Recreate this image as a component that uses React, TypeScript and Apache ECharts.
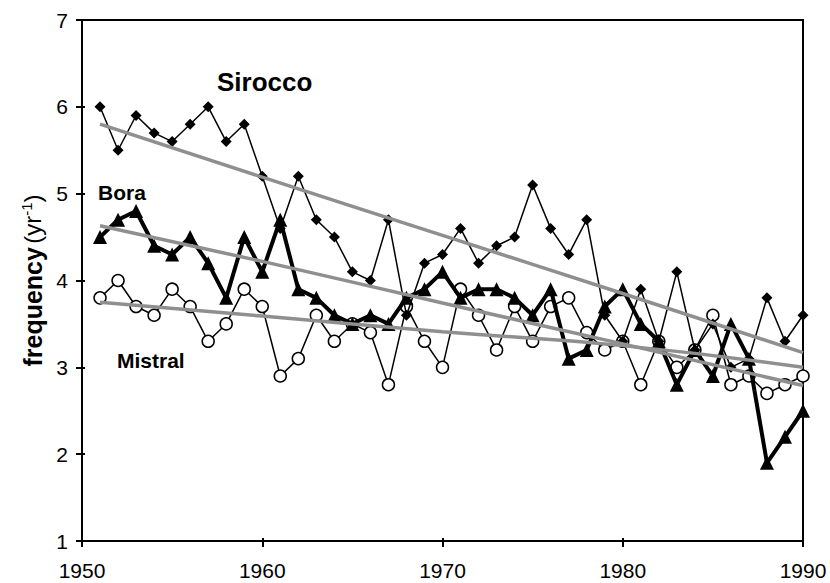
import React, { useEffect, useRef } from "react";
import * as echarts from "echarts";

const years = [
  1951, 1952, 1953, 1954, 1955, 1956, 1957, 1958, 1959, 1960,
  1961, 1962, 1963, 1964, 1965, 1966, 1967, 1968, 1969, 1970,
  1971, 1972, 1973, 1974, 1975, 1976, 1977, 1978, 1979, 1980,
  1981, 1982, 1983, 1984, 1985, 1986, 1987, 1988, 1989, 1990,
];

const sirocco = [
  6.0, 5.5, 5.9, 5.7, 5.6, 5.8, 6.0, 5.6, 5.8, 5.2,
  4.6, 5.2, 4.7, 4.5, 4.1, 4.0, 4.7, 3.6, 4.2, 4.3,
  4.6, 4.2, 4.4, 4.5, 5.1, 4.6, 4.3, 4.7, 3.6, 3.3,
  3.9, 3.3, 4.1, 3.2, 3.5, 3.0, 3.1, 3.8, 3.3, 3.6,
];

const bora = [
  4.5, 4.7, 4.8, 4.4, 4.3, 4.5, 4.2, 3.8, 4.5, 4.1,
  4.7, 3.9, 3.8, 3.6, 3.5, 3.6, 3.5, 3.8, 3.9, 4.1,
  3.8, 3.9, 3.9, 3.8, 3.6, 3.9, 3.1, 3.2, 3.7, 3.9,
  3.5, 3.3, 2.8, 3.2, 2.9, 3.5, 3.1, 1.9, 2.2, 2.5,
];

const mistral = [
  3.8, 4.0, 3.7, 3.6, 3.9, 3.7, 3.3, 3.5, 3.9, 3.7,
  2.9, 3.1, 3.6, 3.3, 3.5, 3.4, 2.8, 3.7, 3.3, 3.0,
  3.9, 3.6, 3.2, 3.7, 3.3, 3.7, 3.8, 3.4, 3.2, 3.3,
  2.8, 3.3, 3.0, 3.2, 3.6, 2.8, 2.9, 2.7, 2.8, 2.9,
];

// Trend lines
const trendYears = [1951, 1960, 1970, 1980, 1990];
const siroccoTrend = [5.8, 5.19, 4.52, 3.85, 3.17];
const boraTrend = [4.63, 4.22, 3.74, 3.27, 2.79];
const mistralTrend = [3.75, 3.59, 3.41, 3.25, 3.0];

const xTicks = { min: 1950, max: 1990, interval: 10 };
const yTicks = { min: 1, max: 7, interval: 1 };

const FONT = "'Liberation Sans', Arial, sans-serif";

const pairs = (xs: number[], ys: number[]) => xs.map((x, i) => [x, ys[i]]);

export default function App() {
  const ref = useRef<HTMLDivElement>(null);

  useEffect(() => {
    document.body.style.margin = "0";
    if (!ref.current) return;
    const chart = echarts.init(ref.current, undefined, { renderer: "svg" });

    const trendStyle = { color: "#8f8f8f", width: 3.5 };

    chart.setOption({
      animation: false,
      backgroundColor: "#ffffff",
      grid: {
        left: 82,
        right: 27,
        top: 20,
        bottom: 42,
        show: true,
        borderColor: "#000",
        borderWidth: 2,
        backgroundColor: "transparent",
      },
      xAxis: [
        {
          type: "value",
          min: xTicks.min,
          max: xTicks.max,
          interval: xTicks.interval,
          axisLine: { show: true, lineStyle: { color: "#000", width: 2 } },
          axisTick: { show: true, inside: false, length: 6, lineStyle: { color: "#000", width: 2 } },
          axisLabel: {
            color: "#000",
            fontSize: 21,
            fontFamily: FONT,
            margin: 19,
            formatter: (v: number) => String(v),
          },
          splitLine: { show: false },
        },
        {
          type: "value",
          position: "bottom",
          min: xTicks.min,
          max: xTicks.max,
          interval: xTicks.interval,
          axisLine: { show: false },
          axisTick: { show: true, inside: true, length: 3, lineStyle: { color: "#000", width: 2 } },
          axisLabel: { show: false },
          splitLine: { show: false },
        },
      ],
      yAxis: [
        {
          type: "value",
          min: yTicks.min,
          max: yTicks.max,
          interval: yTicks.interval,
          axisLine: { show: true, lineStyle: { color: "#000", width: 2 } },
          axisTick: { show: true, inside: false, length: 6, lineStyle: { color: "#000", width: 2 } },
          axisLabel: { color: "#000", fontSize: 21, fontFamily: FONT, margin: 14 },
          splitLine: { show: false },
          name: "{b|frequency} {n|(yr}{s|-1}{n|)}",
          nameLocation: "middle",
          nameGap: 36,
          nameRotate: 90,
          nameTextStyle: {
            fontFamily: FONT,
            color: "#000",
            rich: {
              b: { fontSize: 25, fontWeight: "bold", fontFamily: FONT, color: "#000" },
              n: { fontSize: 24, fontFamily: FONT, color: "#000" },
              s: { fontSize: 15, fontFamily: FONT, color: "#000", verticalAlign: "top", padding: [0, 0, 12, 0] },
            },
          },
        },
        {
          type: "value",
          position: "left",
          min: yTicks.min,
          max: yTicks.max,
          interval: yTicks.interval,
          axisLine: { show: false },
          axisTick: { show: true, inside: true, length: 3, lineStyle: { color: "#000", width: 2 } },
          axisLabel: { show: false },
          splitLine: { show: false },
        },
      ],
      series: [
        {
          name: "Mistral",
          type: "line",
          data: pairs(years, mistral),
          symbol: "circle",
          symbolSize: 12,
          lineStyle: { color: "#000", width: 1.5 },
          itemStyle: { color: "#fff", borderColor: "#000", borderWidth: 1.5 },
          z: 2,
        },
        {
          name: "Bora",
          type: "line",
          data: pairs(years, bora),
          symbol: "triangle",
          symbolSize: 14,
          lineStyle: { color: "#000", width: 4 },
          itemStyle: { color: "#000" },
          z: 3,
        },
        {
          name: "Sirocco",
          type: "line",
          data: pairs(years, sirocco),
          symbol: "diamond",
          symbolSize: 11,
          lineStyle: { color: "#000", width: 1.5 },
          itemStyle: { color: "#000" },
          z: 4,
        },
        {
          name: "Sirocco trend",
          type: "line",
          data: pairs(trendYears, siroccoTrend),
          smooth: true,
          symbol: "none",
          lineStyle: trendStyle,
          z: 5,
        },
        {
          name: "Bora trend",
          type: "line",
          data: pairs(trendYears, boraTrend),
          smooth: true,
          symbol: "none",
          lineStyle: trendStyle,
          z: 5,
        },
        {
          name: "Mistral trend",
          type: "line",
          data: pairs(trendYears, mistralTrend),
          smooth: true,
          symbol: "none",
          lineStyle: trendStyle,
          z: 5,
        },
      ],
      graphic: [
        {
          type: "text",
          left: 217,
          top: 69,
          style: { text: "Sirocco", fontSize: 26, fontWeight: "bold", fontFamily: FONT, fill: "#000" },
        },
        {
          type: "text",
          left: 98,
          top: 182,
          style: { text: "Bora", fontSize: 21, fontWeight: "bold", fontFamily: FONT, fill: "#000" },
        },
        {
          type: "text",
          left: 117,
          top: 350,
          style: { text: "Mistral", fontSize: 21, fontWeight: "bold", fontFamily: FONT, fill: "#000" },
        },
      ],
    });

    return () => chart.dispose();
  }, []);

  return <div ref={ref} style={{ width: 830, height: 583 }} />;
}
